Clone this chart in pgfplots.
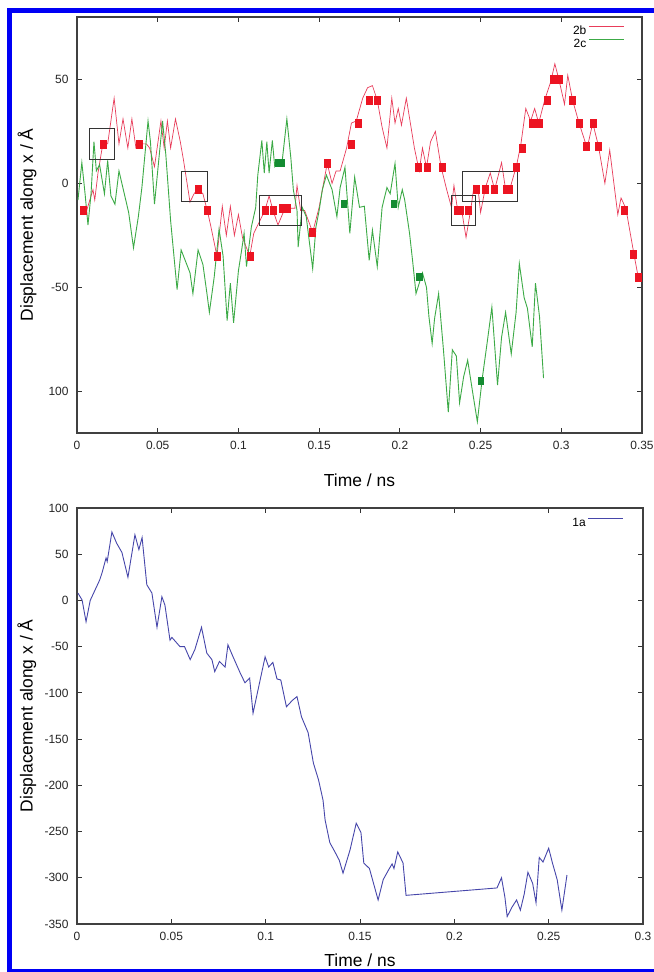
\documentclass[border=0pt]{standalone}
\usepackage{pgfplots}
\pgfplotsset{compat=1.18}
\usepackage{fontspec}
\setmainfont{Liberation Sans}
\definecolor{frameblue}{RGB}{0,0,245}
\definecolor{redline}{RGB}{232,60,90}
\definecolor{redblock}{RGB}{236,20,34}
\definecolor{greenline}{RGB}{60,170,70}
\definecolor{greenblock}{RGB}{20,140,50}
\definecolor{blueline}{RGB}{70,70,170}
\pgfplotsset{
  gpstyle/.style={
    scale only axis,
    axis line style={black!75, line width=1.2bp},
    tick style={black!80, line width=0.8bp},
    major tick length=5bp,
    tick align=inside,
    ticklabel style={font=\fontsize{12}{13}\selectfont, text=black!85},
    xticklabel style={yshift=-5bp},
    yticklabel style={xshift=-5bp},
    label style={font=\fontsize{17.5}{20}\selectfont},
    xlabel style={at={(axis description cs:0.5,0)}, anchor=center, yshift=-47bp},
    ylabel style={at={(axis description cs:-0.0885,0.5)}, anchor=center},
    legend style={draw=none, fill=none, font=\fontsize{12}{13}\selectfont, legend cell align=right, row sep=-6bp},
    legend plot pos=right,
    legend image code/.code={\path[draw=none, fill=none] (0bp,0bp) rectangle (35bp,12bp); \draw[#1, line width=1bp] (0bp,5bp) -- (35bp,5bp);},
  }
}
\begin{document}
\begin{tikzpicture}[x=1bp,y=1bp]
\useasboundingbox (0,0) rectangle (654,972);
\fill[white] (0,0) rectangle (654,972);
% ---------- top panel ----------
\begin{axis}[gpstyle,
  at={(77bp,539bp)}, anchor=south west,
  width=565bp, height=416bp,
  xmin=0, xmax=0.35, ymin=-120, ymax=80,
  xtick={0,0.05,0.1,0.15,0.2,0.25,0.3,0.35},
  xticklabels={0,0.05,0.1,0.15,0.2,0.25,0.3,0.35},
  ytick={-100,-50,0,50},
  yticklabels={100,-50,0,50},
  xlabel={Time / ns},
  ylabel={Displacement along x / Å},
  legend style={at={(axis cs:0.341,80)}, anchor=north east},
]
\addplot[redline, line width=0.7bp] coordinates {
(0.0019,-13.4) (0.006,-13) (0.0099,-3) (0.011,-8) (0.013,5) (0.016,19) (0.019,19) (0.023,41)
(0.026,19) (0.0285,31) (0.0315,17) (0.034,31) (0.0365,17) (0.039,19) (0.043,19) (0.045,17)
(0.048,8) (0.052,30) (0.054,17) (0.056,30) (0.058,17) (0.061,31) (0.064,20) (0.066,11)
(0.070,-9) (0.0725,-5) (0.075,-2.6) (0.078,-5) (0.081,-14) (0.083,-21) (0.0867,-35)
(0.090,-11) (0.0925,-25) (0.095,-11) (0.0975,-25) (0.100,-15) (0.1025,-26) (0.107,-35)
(0.1095,-24) (0.1164,-13) (0.119,-6) (0.1214,-13) (0.1245,-20) (0.1288,-12) (0.135,-12)
(0.1363,-1) (0.1385,-13) (0.141,-13) (0.146,-23.5) (0.150,-11.5) (0.155,9.6) (0.158,0)
(0.1605,6) (0.163,6) (0.167,17) (0.170,29) (0.173,30) (0.177,41) (0.180,46) (0.183,47)
(0.186,40) (0.189,27) (0.192,17) (0.195,41) (0.197,29) (0.199,36) (0.201,28) (0.204,41)
(0.2065,29) (0.209,17) (0.212,6) (0.214,17) (0.2165,7.7) (0.219,20) (0.222,25) (0.2255,8)
(0.229,-3) (0.232,-11.6) (0.2335,-1) (0.236,-14) (0.2385,-14) (0.241,-26) (0.244,-12)
(0.246,-1) (0.2485,-3) (0.250,-14) (0.253,-2) (0.256,5) (0.2587,-3) (0.263,10) (0.2655,-3)
(0.268,-3) (0.2723,8.6) (0.275,19) (0.278,36) (0.281,30) (0.2835,36) (0.286,29) (0.2897,40)
(0.2935,49) (0.296,57.5) (0.2985,50) (0.302,38) (0.304,52) (0.307,40) (0.311,29) (0.316,17)
(0.3195,29) (0.323,18) (0.327,0) (0.330,16) (0.335,-15) (0.337,-7) (0.340,-12) (0.345,-34)
(0.348,-46.5)
};
\addlegendentry{2b}
\addplot[greenline, line width=0.9bp] coordinates {
(0.0006,-8) (0.003,10) (0.005,-5) (0.0068,-20) (0.0087,-5) (0.0105,20) (0.012,6) (0.014,9)
(0.017,-5) (0.019,11) (0.021,-6) (0.0235,-10) (0.026,6) (0.029,-4) (0.032,-14) (0.035,-31)
(0.038,-16) (0.0402,-2) (0.044,30) (0.0455,20) (0.048,-10) (0.053,30) (0.055,14) (0.058,-18)
(0.062,-51) (0.0645,-32) (0.067,-37) (0.070,-43) (0.0718,-53) (0.075,-32) (0.078,-39)
(0.0805,-53) (0.082,-62) (0.085,-45) (0.088,-22) (0.0905,-35) (0.093,-66) (0.095,-48)
(0.097,-67) (0.100,-42) (0.102,-32) (0.1035,-24) (0.105,-40) (0.108,-21) (0.1107,-11.6)
(0.112,4) (0.1145,20.6) (0.116,5) (0.1176,20) (0.119,5) (0.121,20.6) (0.1225,8) (0.1245,10)
(0.127,10) (0.130,31) (0.1325,12) (0.134,-3) (0.1363,-13) (0.137,-30.6) (0.1395,-11.5)
(0.142,-16) (0.146,-41) (0.148,-21) (0.150,-13) (0.152,-3) (0.1545,4) (0.158,-3) (0.161,-16)
(0.163,-2) (0.166,7.7) (0.169,-24) (0.172,3) (0.175,-11.5) (0.178,-11) (0.181,-37)
(0.183,-22.5) (0.186,-40) (0.189,-11.5) (0.192,-2) (0.194,-5) (0.197,9.6) (0.199,-11.5)
(0.2015,-3) (0.203,-8) (0.206,-24) (0.208,-38) (0.210,-53) (0.214,-43) (0.2165,-50)
(0.218,-64) (0.220,-77) (0.2215,-65) (0.224,-53) (0.227,-80) (0.230,-110) (0.2325,-80)
(0.235,-83) (0.237,-105.5) (0.2395,-93) (0.242,-85) (0.245,-100) (0.248,-114.6) (0.251,-94)
(0.254,-77) (0.257,-59.5) (0.2605,-97) (0.263,-74) (0.2655,-62) (0.269,-82) (0.272,-62)
(0.274,-38.5) (0.277,-55) (0.279,-60) (0.282,-78.6) (0.284,-48) (0.2865,-64) (0.289,-93.6)
};
\addlegendentry{2c}
\addplot[only marks, mark=square*, mark size=4bp, redblock,
  mark options={xscale=0.75, draw=redblock, fill=redblock}, forget plot] coordinates {
(0.0037,-13) (0.016,19) (0.0384,19) (0.075,-2.6) (0.0805,-13) (0.0867,-35) (0.107,-35)
(0.1164,-13) (0.1214,-13) (0.127,-12) (0.130,-12) (0.146,-23.5) (0.155,9.6) (0.170,19)
(0.174,29) (0.181,40) (0.186,40) (0.2116,7.7) (0.217,7.7) (0.2265,7.7) (0.2355,-13)
(0.2375,-13) (0.2426,-13) (0.247,-3) (0.253,-3) (0.2587,-3) (0.266,-3) (0.268,-3)
(0.2723,7.7) (0.2755,17) (0.282,29) (0.2866,29) (0.291,40) (0.2947,50) (0.2984,50)
(0.307,40) (0.311,29) (0.3157,18) (0.3195,29) (0.323,18) (0.339,-13) (0.3444,-34)
(0.3478,-45)
};
\addplot[only marks, mark=square*, mark size=3.5bp, greenblock,
  mark options={xscale=0.75, draw=greenblock, fill=greenblock}, forget plot] coordinates {
(0.1245,10) (0.127,10) (0.165,-10) (0.196,-10) (0.212,-45) (0.250,-95)
};
\draw[black!80, line width=0.9bp] (axis cs:0.008,26.4) rectangle (axis cs:0.023,11.5);
\draw[black!80, line width=0.9bp] (axis cs:0.065,5.8) rectangle (axis cs:0.0805,-8.6);
\draw[black!80, line width=0.9bp] (axis cs:0.1133,-5.8) rectangle (axis cs:0.1393,-20);
\draw[black!80, line width=0.9bp] (axis cs:0.2321,-5.8) rectangle (axis cs:0.2470,-20);
\draw[black!80, line width=0.9bp] (axis cs:0.239,5.8) rectangle (axis cs:0.273,-8.6);
\end{axis}
% ---------- bottom panel ----------
\begin{axis}[gpstyle,
  at={(77bp,48bp)}, anchor=south west,
  width=566bp, height=416bp,
  xmin=0, xmax=0.3, ymin=-350, ymax=100,
  xtick={0,0.05,0.1,0.15,0.2,0.25,0.3},
  xticklabels={0,0.05,0.1,0.15,0.2,0.25,0.3},
  ytick={-350,-300,-250,-200,-150,-100,-50,0,50,100},
  yticklabels={-350,-300,-250,-200,-150,-100,-50,0,50,100},
  xlabel={Time / ns},
  xlabel style={yshift=11bp},
  ylabel={Displacement along x / Å},
  legend style={at={(axis cs:0.2915,99)}, anchor=north east},
]
\addplot[blueline, line width=0.9bp] coordinates {
(0.0005,8) (0.0027,0.5) (0.0048,-23) (0.007,0) (0.0095,11) (0.012,22) (0.0133,30) (0.0154,46)
(0.016,42) (0.0185,74) (0.021,62) (0.0238,52) (0.027,25) (0.0307,71) (0.0328,55) (0.0345,68)
(0.037,17) (0.0397,8) (0.0424,-29) (0.045,4) (0.0466,-5) (0.0493,-43) (0.0503,-40)
(0.0546,-50) (0.057,-50) (0.060,-64) (0.0625,-53) (0.066,-29) (0.0688,-57) (0.0715,-64)
(0.073,-77) (0.0755,-66) (0.0785,-72) (0.080,-48) (0.0825,-60) (0.0864,-78) (0.089,-89)
(0.0915,-84) (0.0933,-122) (0.0997,-61) (0.1016,-72) (0.1038,-67) (0.106,-85) (0.108,-86)
(0.111,-115) (0.1142,-108) (0.1166,-104) (0.119,-126) (0.1225,-143) (0.1253,-176)
(0.128,-194) (0.1304,-216) (0.1315,-237.5) (0.134,-262) (0.1367,-272) (0.139,-281)
(0.141,-295) (0.1447,-270) (0.148,-241) (0.1505,-251) (0.152,-284) (0.155,-290)
(0.1596,-324) (0.1623,-302) (0.165,-292) (0.167,-285) (0.168,-290) (0.170,-272)
(0.1728,-284) (0.1744,-319) (0.2226,-311) (0.225,-300) (0.2268,-321) (0.228,-342)
(0.2305,-332) (0.233,-324) (0.235,-335) (0.237,-318) (0.239,-294) (0.2415,-306)
(0.2433,-327) (0.245,-278) (0.247,-283) (0.250,-268) (0.252,-284) (0.2545,-302)
(0.257,-335) (0.2597,-297)
};
\addlegendentry{1a}
\end{axis}
% ---------- blue frame ----------
\fill[frameblue] (7,0) rectangle (12,964);
\fill[frameblue] (7,959) rectangle (654,964);
\fill[frameblue] (7,0) rectangle (654,2.5);
\end{tikzpicture}
\end{document}
